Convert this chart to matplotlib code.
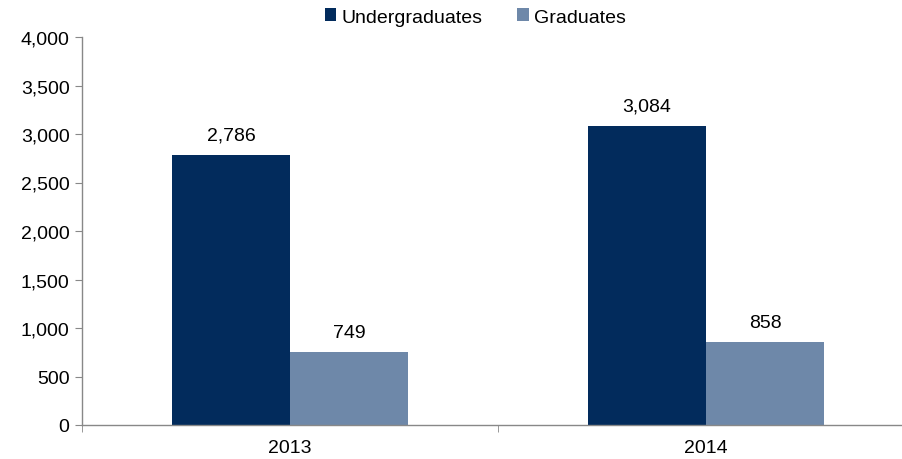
import matplotlib
matplotlib.use("Agg")
from matplotlib import pyplot as plt
import numpy as np

years = ["2013", "2014"]
undergrads = [2786, 3084]
grads = [749, 858]
series_names = ["Undergraduates", "Graduates"]

plt.rcParams['font.family'] = ['Liberation Sans', 'DejaVu Sans']
fs = 14

fig = plt.figure(figsize=(9.03, 4.6), dpi=100)
ax = fig.add_axes([82 / 903, 1 - 426 / 460, 832 / 903, 388 / 460])

x = np.arange(len(years))
w = 0.284
dark = '#022b5c'
light = '#6e88a9'

b1 = ax.bar(x - w / 2, undergrads, w, color=dark, label=series_names[0])
b2 = ax.bar(x + w / 2, grads, w, color=light, label=series_names[1])

for bars, vals in [(b1, undergrads), (b2, grads)]:
    for rect, v in zip(bars, vals):
        ax.annotate("{:,}".format(v), (rect.get_x() + rect.get_width() / 2, v),
                    xytext=(0, 8), textcoords='offset points',
                    ha='center', va='bottom', fontsize=fs)

ax.set_xlim(-0.5, 1.5)
ax.set_ylim(0, 4000)
ax.set_yticks(np.arange(0, 4001, 500))
ax.set_yticklabels(["{:,}".format(v) for v in range(0, 4001, 500)], fontsize=fs)

ax.set_xticks(x)
ax.set_xticklabels(years, fontsize=fs)
ax.tick_params(axis='x', which='major', length=0, pad=10)
ax.set_xticks([-0.5, 0.5, 1.5], minor=True)
ax.tick_params(axis='x', which='minor', length=5, color='#888888', direction='out')
ax.tick_params(axis='y', length=5, color='#888888', pad=4)

for s in ['top', 'right']:
    ax.spines[s].set_visible(False)
for s in ['left', 'bottom']:
    ax.spines[s].set_color('#888888')
    ax.spines[s].set_linewidth(1.0)

ax.legend(loc='center', bbox_to_anchor=(475 / 903, 1 - 18 / 460), bbox_transform=fig.transFigure,
          ncol=2, frameon=False, fontsize=fs, handlelength=0.6, handleheight=0.6,
          handletextpad=0.25, columnspacing=1.8, borderaxespad=0, borderpad=0)

fig.savefig("out.png", dpi=100)
